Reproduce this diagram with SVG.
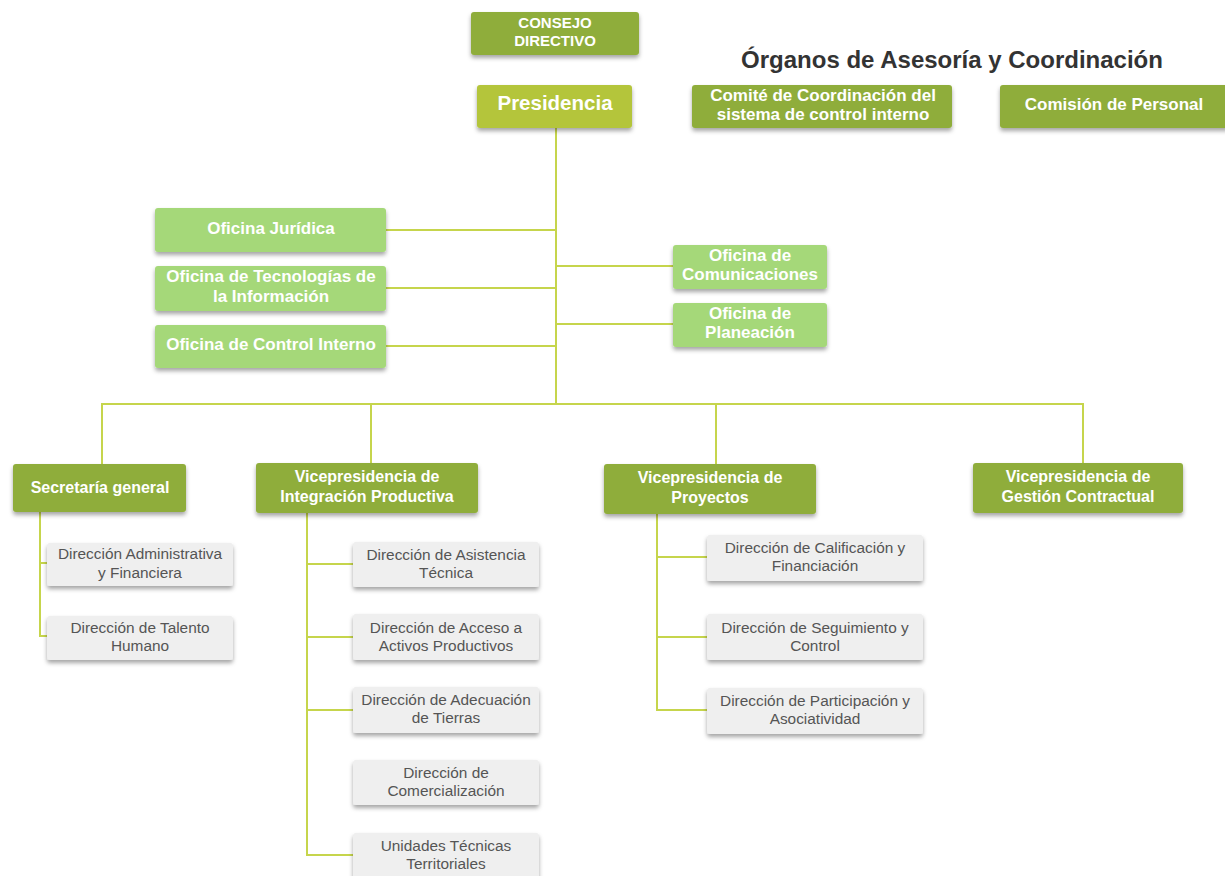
<svg xmlns="http://www.w3.org/2000/svg" width="1225" height="876" viewBox="0 0 1225 876">
<defs>
<filter id="sh" x="-10%" y="-20%" width="120%" height="160%">
<feDropShadow dx="0" dy="3" stdDeviation="2" flood-color="#000" flood-opacity="0.35"/>
</filter>
<style>
.dk{fill:#8fad3b;filter:url(#sh)}
.pr{fill:#b4c53a;filter:url(#sh)}
.lt{fill:#a5d879;filter:url(#sh)}
.gr{fill:#efefef;filter:url(#sh)}
.wt{font-family:"Liberation Sans",Arial,sans-serif;font-weight:bold;fill:#fff;text-anchor:middle;font-size:17px}
.vp{font-size:16px}
.gt{font-family:"Liberation Sans",Arial,sans-serif;fill:#555;text-anchor:middle;font-size:15.4px}
.ln{fill:none;stroke:#c6d54c;stroke-width:2}
</style>
</defs>
<rect width="1225" height="876" fill="#fff"/>
<g id="connectors">
<path class="ln" d="M556 128V404M386 230H556M386 288H556M386 346H556M556 266H673M556 324H673"/>
<path class="ln" d="M102 465V404H1083V463M371 404V463M716 404V465"/>
<path class="ln" d="M40 512V636H47M40 563H47"/>
<path class="ln" d="M307 513V855H353M307 564H353M307 637H353M307 710H353"/>
<path class="ln" d="M657 514V710H707M657 557H707M657 637H707"/>
</g>
<text x="952" y="68" font-family="Liberation Sans,Arial,sans-serif" font-weight="bold" font-size="24" fill="#333" text-anchor="middle">Órganos de Asesoría y Coordinación</text>
<g id="consejo"><rect class="dk" x="471" y="12" width="168" height="43" rx="3"/><text class="wt" style="font-size:15px" x="555" y="28">CONSEJO</text><text class="wt" style="font-size:15px" x="555" y="46">DIRECTIVO</text></g>
<g id="presidencia"><rect class="pr" x="477" y="85" width="155" height="43" rx="3"/><text class="wt" style="font-size:20.5px" x="555" y="110">Presidencia</text></g>
<g id="comite"><rect class="dk" x="692" y="85" width="260" height="43" rx="3"/><text class="wt" x="823" y="101">Comité de Coordinación del</text><text class="wt" x="823" y="120">sistema de control interno</text></g>
<g id="comision"><rect class="dk" x="1000" y="85" width="230" height="43" rx="3"/><text class="wt" x="1114" y="110">Comisión de Personal</text></g>
<g id="juridica"><rect class="lt" x="155" y="208" width="231" height="44" rx="3"/><text class="wt" x="271" y="234">Oficina Jurídica</text></g>
<g id="tecnologias"><rect class="lt" x="155" y="266" width="231" height="45" rx="3"/><text class="wt" x="271" y="282">Oficina de Tecnologías de</text><text class="wt" x="271" y="302">la Información</text></g>
<g id="control"><rect class="lt" x="155" y="325" width="231" height="43" rx="3"/><text class="wt" x="271" y="350">Oficina de Control Interno</text></g>
<g id="comunicaciones"><rect class="lt" x="673" y="245" width="154" height="44" rx="3"/><text class="wt" x="750" y="261">Oficina de</text><text class="wt" x="750" y="280">Comunicaciones</text></g>
<g id="planeacion"><rect class="lt" x="673" y="303" width="154" height="44" rx="3"/><text class="wt" x="750" y="319">Oficina de</text><text class="wt" x="750" y="338">Planeación</text></g>
<g id="secretaria"><rect class="dk" x="13" y="464" width="173" height="48" rx="3"/><text class="wt vp" x="100" y="493">Secretaría general</text></g>
<g id="vp-integracion"><rect class="dk" x="256" y="463" width="222" height="50" rx="3"/><text class="wt vp" x="367" y="482">Vicepresidencia de</text><text class="wt vp" x="367" y="502">Integración Productiva</text></g>
<g id="vp-proyectos"><rect class="dk" x="604" y="464" width="212" height="50" rx="3"/><text class="wt vp" x="710" y="483">Vicepresidencia de</text><text class="wt vp" x="710" y="503">Proyectos</text></g>
<g id="vp-gestion"><rect class="dk" x="973" y="463" width="210" height="50" rx="3"/><text class="wt vp" x="1078" y="482">Vicepresidencia de</text><text class="wt vp" x="1078" y="502">Gestión Contractual</text></g>
<g id="dir-admin"><rect class="gr" x="47" y="543" width="186" height="43" rx="3"/><text class="gt" x="140" y="559">Dirección Administrativa</text><text class="gt" x="140" y="578">y Financiera</text></g>
<g id="dir-talento"><rect class="gr" x="47" y="616" width="186" height="44" rx="3"/><text class="gt" x="140" y="633">Dirección de Talento</text><text class="gt" x="140" y="651">Humano</text></g>
<g id="dir-asistencia"><rect class="gr" x="353" y="542" width="186" height="45" rx="3"/><text class="gt" x="446" y="560">Dirección de Asistencia</text><text class="gt" x="446" y="578">Técnica</text></g>
<g id="dir-acceso"><rect class="gr" x="353" y="614" width="186" height="46" rx="3"/><text class="gt" x="446" y="633">Dirección de Acceso a</text><text class="gt" x="446" y="651">Activos Productivos</text></g>
<g id="dir-adecuacion"><rect class="gr" x="353" y="687" width="186" height="46" rx="3"/><text class="gt" x="446" y="705">Dirección de Adecuación</text><text class="gt" x="446" y="723">de Tierras</text></g>
<g id="dir-comercializacion"><rect class="gr" x="353" y="760" width="186" height="45" rx="3"/><text class="gt" x="446" y="778">Dirección de</text><text class="gt" x="446" y="796">Comercialización</text></g>
<g id="unidades"><rect class="gr" x="353" y="833" width="186" height="46" rx="3"/><text class="gt" x="446" y="851">Unidades Técnicas</text><text class="gt" x="446" y="869">Territoriales</text></g>
<g id="dir-calificacion"><rect class="gr" x="707" y="535" width="216" height="46" rx="3"/><text class="gt" x="815" y="553">Dirección de Calificación y</text><text class="gt" x="815" y="571">Financiación</text></g>
<g id="dir-seguimiento"><rect class="gr" x="707" y="614" width="216" height="46" rx="3"/><text class="gt" x="815" y="633">Dirección de Seguimiento y</text><text class="gt" x="815" y="651">Control</text></g>
<g id="dir-participacion"><rect class="gr" x="707" y="688" width="216" height="46" rx="3"/><text class="gt" x="815" y="706">Dirección de Participación y</text><text class="gt" x="815" y="724">Asociatividad</text></g>
</svg>
